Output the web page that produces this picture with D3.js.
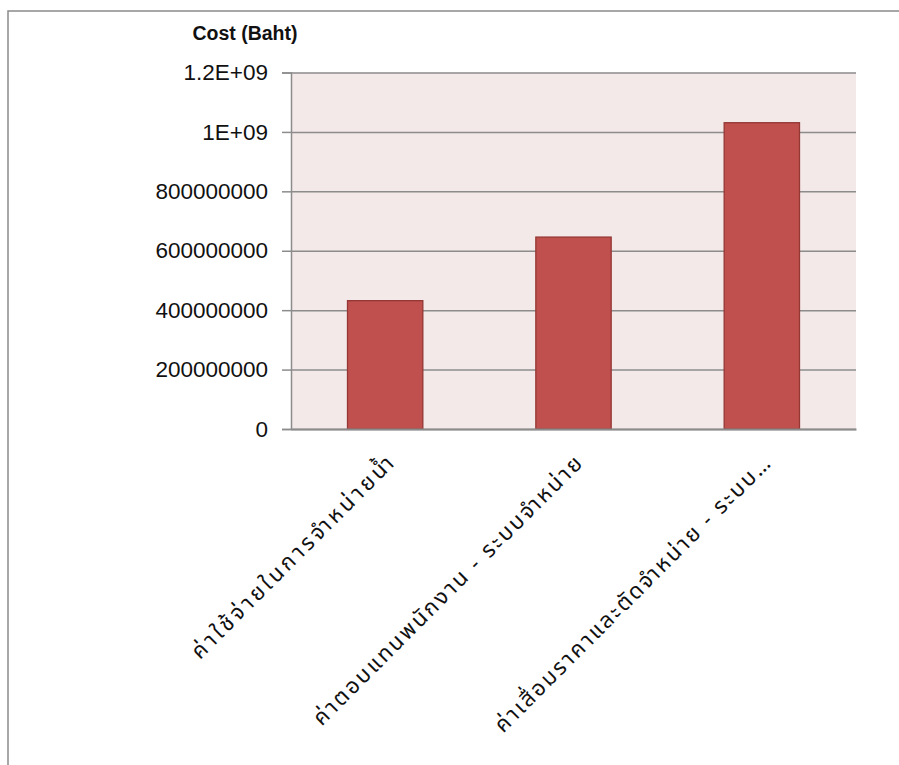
<!DOCTYPE html>
<html><head><meta charset="utf-8">
<script src="https://cdn.jsdelivr.net/npm/d3@7"></script>
<style>body{margin:0;background:#fff}svg{display:block}</style>
</head><body>
<svg id="c" width="899" height="765"></svg>
<script>
const categories = [
  "ค่าใช้จ่ายในการจำหน่ายน้ำ",
  "ค่าตอบแทนพนักงาน - ระบบจำหน่าย",
  "ค่าเสื่อมราคาและตัดจำหน่าย - ระบบ…"
];
const values = [432000000, 646000000, 1031000000];
const yTicks = [0, 200000000, 400000000, 600000000, 800000000, 1000000000, 1200000000];
const yTickLabels = ["0", "200000000", "400000000", "600000000", "800000000", "1E+09", "1.2E+09"];
const yTitle = "Cost (Baht)";

// style: rendered lengths of the rotated category labels (px)
const labelLengths = [276, 370, 380];

const svg = d3.select("#c");
const m = {left: 291, top: 72.5, right: 856, bottom: 429};
const numFont = "'Liberation Sans', Arial, sans-serif";
const thaiFont = "'Noto Sans Thai', 'Noto Sans Thai UI', Tahoma, 'Noto Sans', sans-serif";

// outer frame
svg.append("rect").attr("x", 8).attr("y", 11).attr("width", 960).attr("height", 900)
  .attr("fill", "none").attr("stroke", "#8a8a8a").attr("stroke-width", 1.5);

const x = d3.scaleBand().domain(categories).range([m.left, m.right]).paddingInner(0.6).paddingOuter(0.3);
const y = d3.scaleLinear().domain([0, 1200000000]).range([m.bottom, m.top]);

// plot background
svg.append("rect").attr("x", m.left).attr("y", m.top).attr("width", m.right - m.left).attr("height", m.bottom - m.top)
  .attr("fill", "#f3e9e9");

// gridlines
const yAxis = d3.axisLeft(y).tickValues(yTicks).tickSize(-(m.right - m.left)).tickFormat("");
const gg = svg.append("g").attr("transform", `translate(${m.left},0)`).call(yAxis);
gg.select(".domain").remove();
gg.selectAll(".tick line").attr("stroke", "#8c8c8c").attr("stroke-width", 1.5);

// tick marks + labels
const yAxis2 = d3.axisLeft(y).tickValues(yTicks).tickSize(9).tickPadding(14)
  .tickFormat((d, i) => yTickLabels[i]);
const ga = svg.append("g").attr("transform", `translate(${m.left},0)`).call(yAxis2);
ga.select(".domain").attr("stroke", "#8c8c8c").attr("stroke-width", 1.5);
ga.selectAll(".tick line").attr("stroke", "#8c8c8c").attr("stroke-width", 1.5);
ga.selectAll(".tick text").attr("font-family", numFont).attr("font-size", 22.5).attr("fill", "#111");

// bars
svg.append("g").selectAll("rect").data(values).join("rect")
  .attr("x", (d, i) => x(categories[i]))
  .attr("y", d => y(d))
  .attr("width", x.bandwidth())
  .attr("height", d => y(0) - y(d))
  .attr("fill", "#c0504d")
  .attr("stroke", "#943735").attr("stroke-width", 1.3);

// x axis
const xAxis = d3.axisBottom(x).tickSize(0).tickFormat("");
const gx = svg.append("g").attr("transform", `translate(0,${m.bottom})`).call(xAxis);
gx.select(".domain").attr("stroke", "#8c8c8c").attr("stroke-width", 2);

// category labels
svg.append("g").selectAll("text").data(categories).join("text")
  .attr("transform", d => `translate(${x(d) + x.bandwidth() / 2 + 10},${m.bottom + 36}) rotate(-45)`)
  .attr("text-anchor", "end")
  .attr("font-family", thaiFont).attr("font-size", 22).attr("fill", "#111")
  .attr("textLength", (d, i) => labelLengths[i]).attr("lengthAdjust", "spacing")
  .text(d => d);

// y title
svg.append("text").attr("x", 245).attr("y", 40).attr("text-anchor", "middle")
  .attr("font-family", numFont).attr("font-weight", "bold").attr("font-size", 19.5).attr("fill", "#111")
  .text(yTitle);
</script>
</body></html>
